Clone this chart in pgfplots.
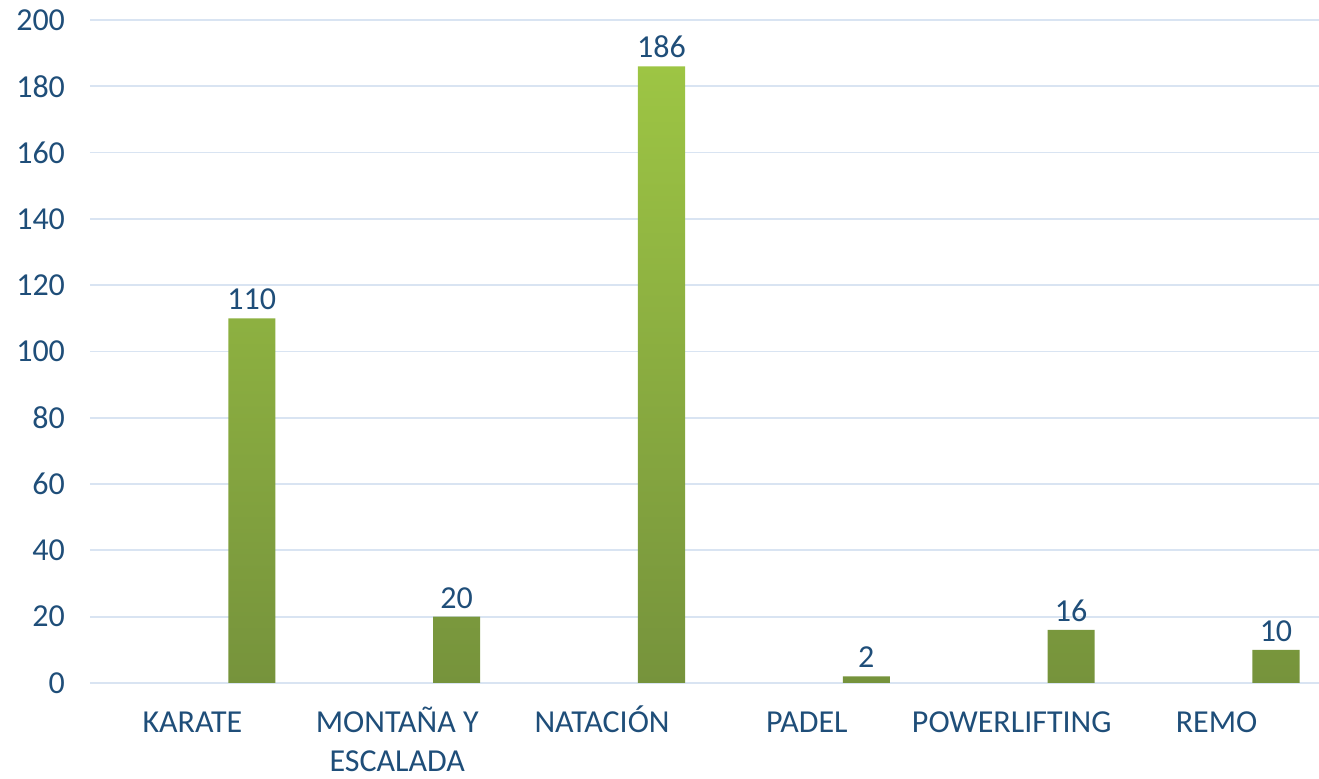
\documentclass[border=0pt]{standalone}
\usepackage{pgfplots}
\pgfplotsset{compat=1.18}
\usepackage{fontspec}
\setmainfont{Carlito}
\definecolor{txt}{HTML}{1F4E79}
\definecolor{gridc}{HTML}{D9E4F2}
\definecolor{gtop}{HTML}{9DC544}
\definecolor{gbot}{HTML}{76933C}
\begin{document}
\begin{tikzpicture}[x=1pt,y=1pt]
\useasboundingbox (-45,-48) rectangle (614.5,341.5);
\begin{axis}[
  at={(0,0)}, anchor=south west,
  scale only axis, width=614.5pt, height=331.5pt,
  xmin=-0.5, xmax=5.5, ymin=0, ymax=200,
  ytick={0,20,...,200},
  xtick={0,1,2,3,4,5},
  xticklabels={\vphantom{Ó}KARATE,\vphantom{Ó}MONTAÑA Y\\ESCALADA,\vphantom{Ó}NATACIÓN,\vphantom{Ó}PADEL,\vphantom{Ó}POWERLIFTING,\vphantom{Ó}REMO},
  axis line style={draw=none},
  major tick length=0pt,
  xmajorgrids=false,
  ymajorgrids=true, grid style={color=gridc, line width=0.9pt},
  tick label style={font=\fontsize{16}{19.5}\selectfont, text=txt},
  xticklabel style={align=center, yshift=-8pt},
  yticklabel style={xshift=-9pt},
  /pgf/number format/assume math mode=true,
  clip=false,
]
\addplot[ybar, bar width=0.23, draw=none, top color=gtop, bottom color=gbot,
  nodes near coords, nodes near coords style={font=\fontsize{16}{19}\selectfont, text=txt, inner sep=1pt, yshift=3pt}]
  coordinates {(0.29,110) (1.29,20) (2.29,186) (3.29,2) (4.29,16) (5.29,10)};
\end{axis}
\end{tikzpicture}
\end{document}
